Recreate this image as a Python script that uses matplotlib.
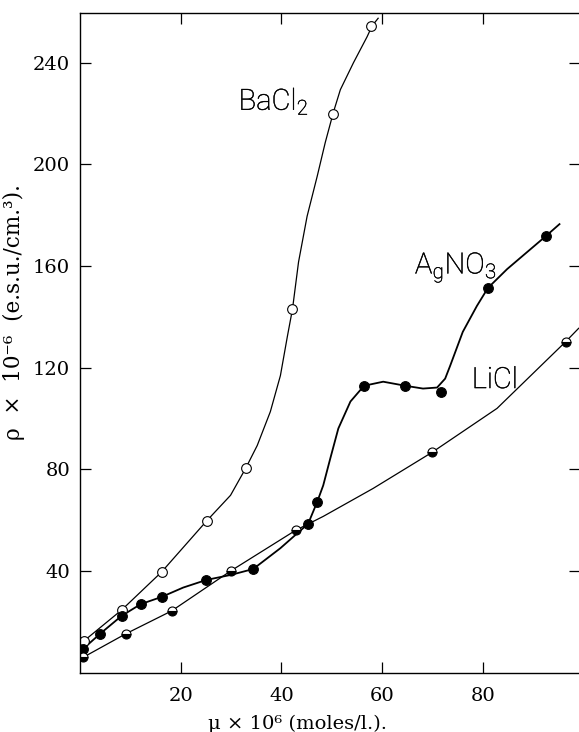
"""Space charge density vs concentration for BaCl2, AgNO3 and LiCl."""
import matplotlib.pyplot as plt
import matplotlib.patheffects as pe

# measured points (markers)
ba_x = [0.8, 8.3, 16.2, 25.3, 32.9, 42.1, 50.3, 57.8]
ba_y = [12.5, 24.7, 39.6, 59.6, 80.4, 143.0, 220.0, 254.5]
ag_x = [0.7, 4.0, 8.3, 12.1, 16.2, 25.1, 34.4, 45.3, 47.1, 56.4, 64.6, 71.7, 81.0, 92.5]
ag_y = [9.5, 15.3, 22.4, 27.0, 29.8, 36.5, 40.8, 58.6, 67.2, 112.7, 112.8, 110.6, 151.4, 171.8]
li_x = [0.6, 9.1, 18.2, 29.9, 42.8, 69.9, 96.4]
li_y = [6.0, 15.3, 24.3, 40.0, 56.0, 86.7, 130.2]

# hand-drawn curves
ba_cx = [0.0, 0.8, 8.3, 16.2, 25.1, 29.9, 32.9, 35.2, 37.8, 39.8, 41.2, 42.2, 43.4,
         45.1, 47.1, 48.7, 50.3, 51.7, 54.3, 57.0, 58.0, 59.2]
ba_cy = [10.5, 12.5, 24.7, 39.6, 59.6, 69.8, 80.4, 89.4, 102.7, 116.9, 132.5, 143.1,
         161.6, 179.6, 195.3, 208.6, 220.4, 229.4, 240.0, 250.2, 254.5, 257.5]
ag_cx = [0.0, 0.7, 4.0, 8.3, 12.1, 16.2, 20.5, 25.1, 30.0, 34.4, 39.8, 45.3, 47.1, 48.3,
         49.7, 51.3, 53.7, 56.4, 60.2, 64.6, 68.1, 70.9, 72.5, 73.5, 76.0, 78.8, 81.0,
         84.8, 92.5, 95.2]
ag_cy = [8.0, 9.5, 15.3, 22.4, 27.0, 29.8, 33.5, 36.5, 38.5, 40.8, 49.0, 58.6, 67.2, 73.7,
         84.3, 96.1, 106.7, 112.9, 114.5, 112.9, 111.8, 112.2, 115.7, 120.8, 134.1,
         144.3, 151.4, 158.8, 171.8, 176.5]
li_cx = [0.0, 0.6, 9.1, 18.2, 29.9, 42.8, 48.3, 58.2, 69.9, 82.8, 96.4, 99.0]
li_cy = [5.5, 6.0, 15.3, 24.3, 40.0, 56.0, 61.5, 72.5, 86.7, 104.0, 130.2, 135.5]

x_ticks = [20, 40, 60, 80]
y_ticks = [40, 80, 120, 160, 200, 240]

fig = plt.figure(figsize=(5.79, 7.32), dpi=100)
ax = fig.add_axes([0.138, 0.081, 0.864, 0.901])

ax.plot(ba_cx, ba_cy, color="black", lw=0.9)
ax.plot(ag_cx, ag_cy, color="black", lw=1.3)
ax.plot(li_cx, li_cy, color="black", lw=0.9)

ax.plot(ba_x, ba_y, "o", ms=7, mfc="white", mec="black", mew=0.8)
ax.plot(ag_x, ag_y, "o", ms=7, mfc="black", mec="black", mew=0.8)
ax.plot(li_x, li_y, "o", ms=6.5, mfc="black", mfcalt="white", fillstyle="bottom",
        mec="black", mew=0.8)

# thin geometric lettering, darkened with a hairline stroke
lab = dict(family="Roboto", weight="light", fontsize=21, color="black",
           path_effects=[pe.withStroke(linewidth=0.3, foreground="black")])
ax.text(31.5, 221.5, r"BaCl$_\mathregular{2}$", **lab)
ax.text(66.5, 157, r"A$_\mathregular{g}$NO$_\mathregular{3}$", **lab)
ax.text(77.8, 112, "LiCl", **lab)

ax.set_xlim(0, 99.3)
ax.set_ylim(0, 259.5)
ax.set_xticks(x_ticks)
ax.set_yticks(y_ticks)
ax.tick_params(direction="in", length=8, width=0.9, top=True, right=True,
               labelsize=14, pad=7)
for t in ax.get_xticklabels() + ax.get_yticklabels():
    t.set_family("DejaVu Serif")
ax.tick_params(axis="x", pad=10)

ax.set_xlabel("μ × 10⁶ (moles/l.).", family="DejaVu Serif", fontsize=14)
ax.xaxis.set_label_coords(0.434, -0.063)
ax.set_ylabel("ρ  ×  10⁻⁶  (e.s.u./cm.³).", family="DejaVu Serif", fontsize=15.5)
ax.yaxis.set_label_coords(-0.11, 0.547)

for s in ax.spines.values():
    s.set_linewidth(1.0)

plt.savefig("out.png", dpi=100)
